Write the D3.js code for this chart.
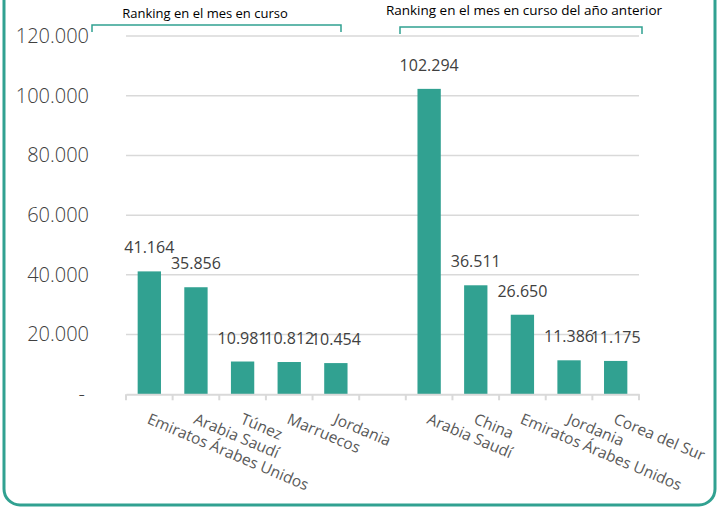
<!DOCTYPE html>
<html>
<head>
<meta charset="utf-8">
<script src="https://cdn.jsdelivr.net/npm/d3@7"></script>
<style>
  html, body { margin: 0; padding: 0; background: #fff; }
  svg { display: block; }
</style>
</head>
<body>
<svg id="chart" width="727" height="508"></svg>
<script>
// ---- Data ----
const categoriesCurrent = ["Emiratos Árabes Unidos", "Arabia Saudí", "Túnez", "Marruecos", "Jordania"];
const valuesCurrent = [41164, 35856, 10981, 10812, 10454];
const categoriesPrevious = ["Arabia Saudí", "China", "Emiratos Árabes Unidos", "Jordania", "Corea del Sur"];
const valuesPrevious = [102294, 36511, 26650, 11386, 11175];
const yTicks = [0, 20000, 40000, 60000, 80000, 100000, 120000];
const groupTitles = ["Ranking en el mes en curso", "Ranking en el mes en curso del año anterior"];

// combined table (with an empty gap slot between the groups)
const rows = [];
categoriesCurrent.forEach((c, i) => rows.push({ key: "a" + i, name: c, value: valuesCurrent[i] }));
rows.push({ key: "gap", name: "", value: null });
categoriesPrevious.forEach((c, i) => rows.push({ key: "b" + i, name: c, value: valuesPrevious[i] }));

const svg = d3.select("#chart");
const teal = "#31a191";
const font = "'Open Sans', sans-serif";
const fmt = v => v === 0 ? "-" : d3.format(",")(v).replace(/,/g, ".");

// frame
svg.append("rect")
  .attr("x", 4).attr("y", -20).attr("width", 711).attr("height", 525)
  .attr("rx", 16).attr("ry", 16)
  .attr("fill", "none").attr("stroke", teal).attr("stroke-width", 3);

const x = d3.scaleBand().domain(rows.map(d => d.key)).range([126, 639]).paddingInner(0.5).paddingOuter(0.25);
const xTickScale = d3.scaleBand().domain(rows.map(d => d.key)).range([126, 639]);
const y = d3.scaleLinear().domain([0, 120000]).range([394.3, 36]);

// gridlines
svg.append("g").selectAll("line").data(yTicks.filter(t => t > 0)).join("line")
  .attr("x1", 126).attr("x2", 639)
  .attr("y1", d => y(d)).attr("y2", d => y(d))
  .attr("stroke", "#d9d9d9").attr("stroke-width", 1.5);

// y axis labels
const yAxis = d3.axisLeft(y).tickValues(yTicks).tickFormat(fmt).tickSize(0).tickPadding(0);
const yg = svg.append("g").attr("transform", "translate(89,0)").call(yAxis);
yg.select(".domain").remove();
yg.selectAll("text")
  .attr("font-family", font).attr("font-size", 20).attr("font-weight", 300)
  .attr("fill", "#404040");
yg.selectAll(".tick").filter(d => d === 0).select("text").attr("dx", -4);

// bars
svg.append("g").selectAll("rect").data(rows.filter(d => d.value != null)).join("rect")
  .attr("x", d => x(d.key))
  .attr("width", x.bandwidth())
  .attr("y", d => y(d.value))
  .attr("height", d => y(0) - y(d.value))
  .attr("fill", teal);

// value labels
svg.append("g").selectAll("text").data(rows.filter(d => d.value != null)).join("text")
  .attr("x", d => x(d.key) + x.bandwidth() / 2)
  .attr("y", d => y(d.value) - 18)
  .attr("text-anchor", "middle")
  .attr("font-family", font).attr("font-size", 16)
  .attr("fill", "#404040")
  .text(d => fmt(d.value));

// x axis line and ticks
const xAxis = d3.axisBottom(xTickScale).tickSize(0).tickFormat(() => "");
const xg = svg.append("g").attr("transform", "translate(0,394.3)").call(xAxis);
xg.select(".domain").attr("stroke", "#d9d9d9").attr("stroke-width", 2);
xg.selectAll(".tick").remove();
const boundaries = rows.map(d => xTickScale(d.key)).concat([xTickScale.range()[1]]);
xg.selectAll("line.bt").data(boundaries).join("line")
  .attr("class", "bt")
  .attr("x1", d => d).attr("x2", d => d)
  .attr("y1", 0).attr("y2", 6)
  .attr("stroke", "#d9d9d9").attr("stroke-width", 2);

// x labels (rotated)
svg.append("g").selectAll("text").data(rows.filter(d => d.name)).join("text")
  .attr("transform", d => `translate(${xTickScale(d.key) + xTickScale.bandwidth() / 2 - 1},${418}) rotate(23)`)
  .attr("text-anchor", "start")
  .attr("dy", "0.35em")
  .attr("font-family", font).attr("font-size", 15.5)
  .attr("fill", "#595959")
  .text(d => d.name);

// group brackets
const brackets = [
  { x1: 92, x2: 341, y: 25, title: groupTitles[0], tx: 205, ty: 18, fs: 13 },
  { x1: 400, x2: 642, y: 27, title: groupTitles[1], tx: 524, ty: 15, fs: 13.5 }
];
const bg = svg.append("g");
brackets.forEach(b => {
  bg.append("path")
    .attr("d", `M${b.x1},${b.y + 7}V${b.y}H${b.x2}V${b.y + 7}`)
    .attr("fill", "none").attr("stroke", teal).attr("stroke-width", 1.5);
  bg.append("text")
    .attr("x", b.tx).attr("y", b.ty)
    .attr("text-anchor", "middle")
    .attr("font-family", font).attr("font-size", b.fs)
    .attr("fill", "#000")
    .text(b.title);
});
</script>
</body>
</html>
